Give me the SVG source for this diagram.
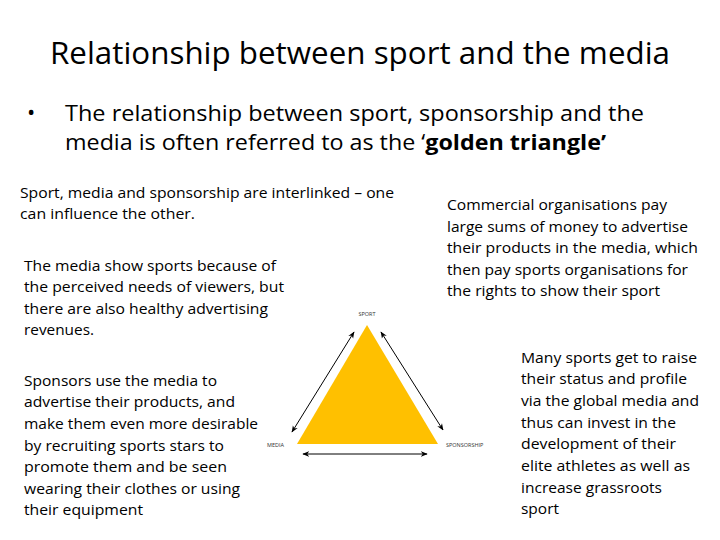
<svg xmlns="http://www.w3.org/2000/svg" width="720" height="540" viewBox="0 0 720 540">
<defs>
<style>
text{font-family:"Open Sans","Liberation Sans",sans-serif;fill:#000}
.t{font-size:31px}
.b{font-size:22px}
.p{font-size:14.5px}
.l{font-size:5.5px;fill:#333}
.c{stroke:#000;stroke-width:1;fill:none;marker-start:url(#ah);marker-end:url(#ah)}
</style>
<marker id="ah" viewBox="0 0 10 10" refX="9" refY="5" markerWidth="7" markerHeight="7" orient="auto-start-reverse" markerUnits="userSpaceOnUse">
<path d="M0,1 L10,5 L0,9 L3,5 Z" fill="#000"/>
</marker>
</defs>
<rect width="720" height="540" fill="#fff"/>
<text class="t" x="50" y="64" textLength="620" lengthAdjust="spacingAndGlyphs">Relationship between sport and the media</text>
<g id="bullet">
<text class="b" x="27" y="120">•</text>
<text class="b" x="65" y="121" textLength="579" lengthAdjust="spacingAndGlyphs">The relationship between sport, sponsorship and the</text>
<text class="b" x="65" y="150" textLength="541" lengthAdjust="spacingAndGlyphs">media is often referred to as the ‘<tspan font-weight="bold">golden triangle’</tspan></text>
</g>
<g id="text-interlinked">
<text class="p" x="20" y="198" textLength="374" lengthAdjust="spacingAndGlyphs">Sport, media and sponsorship are interlinked – one</text>
<text class="p" x="20" y="219" textLength="175" lengthAdjust="spacingAndGlyphs">can influence the other.</text>
</g>
<g id="text-media">
<text class="p" x="24" y="271" textLength="252" lengthAdjust="spacingAndGlyphs">The media show sports because of</text>
<text class="p" x="24" y="292" textLength="260" lengthAdjust="spacingAndGlyphs">the perceived needs of viewers, but</text>
<text class="p" x="24" y="314" textLength="244" lengthAdjust="spacingAndGlyphs">there are also healthy advertising</text>
<text class="p" x="24" y="335" textLength="70" lengthAdjust="spacingAndGlyphs">revenues.</text>
</g>
<g id="text-sponsors">
<text class="p" x="24" y="386" textLength="193" lengthAdjust="spacingAndGlyphs">Sponsors use the media to</text>
<text class="p" x="24" y="407" textLength="211" lengthAdjust="spacingAndGlyphs">advertise their products, and</text>
<text class="p" x="24" y="429" textLength="234" lengthAdjust="spacingAndGlyphs">make them even more desirable</text>
<text class="p" x="24" y="451" textLength="200" lengthAdjust="spacingAndGlyphs">by recruiting sports stars to</text>
<text class="p" x="24" y="472" textLength="203" lengthAdjust="spacingAndGlyphs">promote them and be seen</text>
<text class="p" x="24" y="494" textLength="216" lengthAdjust="spacingAndGlyphs">wearing their clothes or using</text>
<text class="p" x="24" y="515" textLength="119" lengthAdjust="spacingAndGlyphs">their equipment</text>
</g>
<g id="text-commercial">
<text class="p" x="447" y="210" textLength="220" lengthAdjust="spacingAndGlyphs">Commercial organisations pay</text>
<text class="p" x="447" y="232" textLength="241" lengthAdjust="spacingAndGlyphs">large sums of money to advertise</text>
<text class="p" x="447" y="253" textLength="251" lengthAdjust="spacingAndGlyphs">their products in the media, which</text>
<text class="p" x="447" y="275" textLength="241" lengthAdjust="spacingAndGlyphs">then pay sports organisations for</text>
<text class="p" x="447" y="296" textLength="213" lengthAdjust="spacingAndGlyphs">the rights to show their sport</text>
</g>
<g id="text-many">
<text class="p" x="521" y="363" textLength="176" lengthAdjust="spacingAndGlyphs">Many sports get to raise</text>
<text class="p" x="521" y="384" textLength="166" lengthAdjust="spacingAndGlyphs">their status and profile</text>
<text class="p" x="521" y="406" textLength="178" lengthAdjust="spacingAndGlyphs">via the global media and</text>
<text class="p" x="521" y="428" textLength="155" lengthAdjust="spacingAndGlyphs">thus can invest in the</text>
<text class="p" x="521" y="449" textLength="155" lengthAdjust="spacingAndGlyphs">development of their</text>
<text class="p" x="521" y="471" textLength="169" lengthAdjust="spacingAndGlyphs">elite athletes as well as</text>
<text class="p" x="521" y="493" textLength="141" lengthAdjust="spacingAndGlyphs">increase grassroots</text>
<text class="p" x="521" y="514" textLength="38" lengthAdjust="spacingAndGlyphs">sport</text>
</g>
<g id="triangle">
<polygon points="367,325 297,444 438,444" fill="#FFC000"/>
</g>
<g id="node-sport"><text class="l" x="367" y="316" text-anchor="middle">SPORT</text></g>
<g id="node-media"><text class="l" x="267" y="447">MEDIA</text></g>
<g id="node-sponsorship"><text class="l" x="446" y="447">SPONSORSHIP</text></g>
<g id="connectors">
<line class="c" x1="292" y1="432" x2="354" y2="332"/>
<line class="c" x1="381" y1="332" x2="443" y2="430"/>
<line class="c" x1="303" y1="454" x2="427" y2="454"/>
</g>
</svg>
